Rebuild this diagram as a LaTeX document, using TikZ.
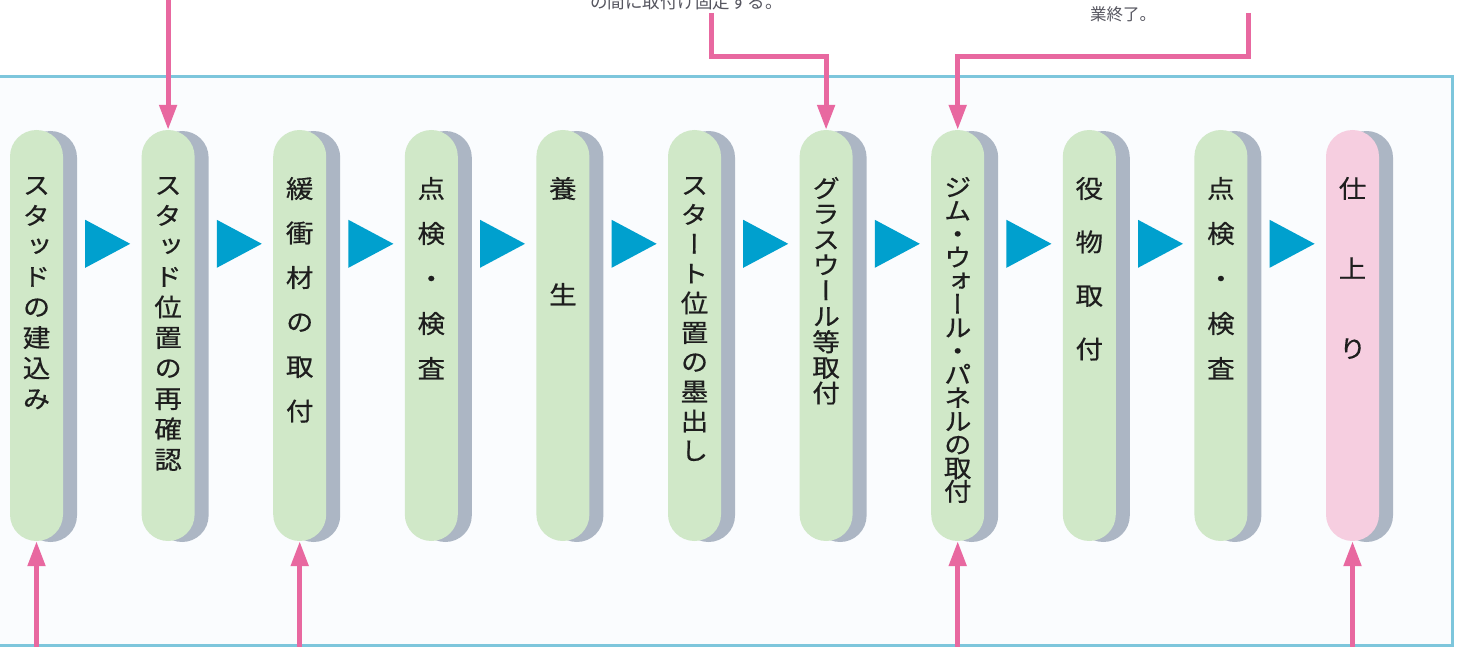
\documentclass[tikz,border=0pt]{standalone}
\usepackage{fontspec}
\usetikzlibrary{arrows.meta,calc,shadows}
\newfontfamily\cjkv[RawFeature=+vert,FakeStretch=1.1,FakeBold=0.5]{Noto Sans CJK JP}
\newfontfamily\cjkh{Noto Sans CJK JP}
\definecolor{pillgreen}{RGB}{208,232,200}
\definecolor{pillpink}{RGB}{246,206,224}
\definecolor{shadowgray}{RGB}{172,182,196}
\definecolor{triblue}{RGB}{0,160,206}
\definecolor{arrowpink}{RGB}{232,104,160}
\definecolor{framecol}{RGB}{125,198,220}
\definecolor{framefill}{RGB}{250,252,254}
\definecolor{txtgray}{RGB}{85,85,95}
\definecolor{txtdark}{RGB}{30,30,30}
\newcommand\vfnt[1]{\cjkv\fontsize{25}{#1}\selectfont\lineskiplimit=-100pt\relax}
\tikzset{
  pill/.style={rectangle, rounded corners=26.5pt, minimum width=53pt,
    minimum height=411pt, inner sep=0pt, fill=pillgreen,
    drop shadow={shadow xshift=14pt, shadow yshift=-1pt, fill=shadowgray, opacity=1}},
  pinkpill/.style={pill, fill=pillpink},
  vtxt/.style={anchor=north, inner sep=0pt, align=center, text=txtdark},
  tri/.style={fill=triblue},
  parrow/.style={draw=arrowpink, line width=5pt, -{Triangle[length=25pt,width=17pt]}},
  frameline/.style={draw=framecol, line width=3pt},
  note/.style={inner sep=0pt, anchor=base west, text=txtgray}
}
\begin{document}
\begin{tikzpicture}[x=1pt,y=-1pt]
\useasboundingbox (0,0) rectangle (1458,647);
\clip (0,0) rectangle (1458,647);
\fill[white] (0,0) rectangle (1458,647);
% frame
\fill[framefill] (-10,77) rectangle (1452,645);
\draw[frameline] (-10,77) -- (1452,77) -- (1452,645) -- (-10,645);
% notes (cut at top, as in the reference)
\node[note, font=\cjkh\fontsize{17.5}{20}\selectfont] (note1) at (590,9) {の間に取付け固定する。};
\node[note, font=\cjkh\fontsize{16.5}{20}\selectfont] (note2) at (1090,21) {業終了。};
% pills
\node[pill] (n1) at (36.5,335.5) {};
\node[pill] (n2) at (168.1,335.5) {};
\node[pill] (n3) at (299.7,335.5) {};
\node[pill] (n4) at (431.3,335.5) {};
\node[pill] (n5) at (562.9,335.5) {};
\node[pill] (n6) at (694.5,335.5) {};
\node[pill] (n7) at (826.1,335.5) {};
\node[pill] (n8) at (957.7,335.5) {};
\node[pill] (n9) at (1089.3,335.5) {};
\node[pill] (n10) at (1220.9,335.5) {};
\node[pinkpill] (n11) at (1352.5,335.5) {};
% texts
\node[vtxt, font=\vfnt{30.5}] (t1) at ($(n1.north)+(0,47)$) {ス\\タ\\ッ\\ド\\の\\建\\込\\み};
\node[vtxt, font=\vfnt{30.5}] (t2) at ($(n2.north)+(0,47)$) {ス\\タ\\ッ\\ド\\位\\置\\の\\再\\確\\認};
\node[vtxt, font=\vfnt{44.5}] (t3) at ($(n3.north)+(0,47)$) {緩\\衝\\材\\の\\取\\付};
\node[vtxt, font=\vfnt{45}] (t4) at ($(n4.north)+(0,47)$) {点\\検\\・\\検\\査};
\node[vtxt, font=\vfnt{106}] (t5) at ($(n5.north)+(0,47)$) {養\\生};
\node[vtxt, font=\vfnt{29.5}] (t6) at ($(n6.north)+(0,47)$) {ス\\タ\\ー\\ト\\位\\置\\の\\墨\\出\\し};
\node[vtxt, font=\vfnt{25.6}] (t7) at ($(n7.north)+(0,47)$) {グ\\ラ\\ス\\ウ\\ー\\ル\\等\\取\\付};
\node[vtxt, font=\vfnt{23.4}] (t8) at ($(n8.north)+(0,47)$) {ジ\\ム\\・\\ウ\\ォ\\ー\\ル\\・\\パ\\ネ\\ル\\の\\取\\付};
\node[vtxt, font=\vfnt{53.5}] (t9) at ($(n9.north)+(0,47)$) {役\\物\\取\\付};
\node[vtxt, font=\vfnt{45}] (t10) at ($(n10.north)+(0,47)$) {点\\検\\・\\検\\査};
\node[vtxt, font=\vfnt{80}] (t11) at ($(n11.north)+(0,47)$) {仕\\上\\り};
% blue triangles between steps
\foreach \i in {1,...,10}{
  \fill[tri] ($(n\i.north east)+(22,90)$) -- ($(n\i.north east)+(22,138)$) -- ($(n\i.north east)+(67,114)$) -- cycle;
}
% pink arrows from top
\coordinate (a2) at ($(n2.north)+(0,-140)$);
\draw[parrow] (a2) -- (n2.north);
\coordinate (a7) at (711,13);
\draw[parrow] (a7) |- ($(n7.north)+(0,-73)$) -- (n7.north);
\coordinate (a8) at (1248,13);
\draw[parrow] (a8) |- ($(n8.north)+(0,-73)$) -- (n8.north);
% pink arrows from bottom
\foreach \k in {1,3,8,11}{
  \coordinate (b\k) at ($(n\k.south)+(0,120)$);
  \draw[parrow] (b\k) -- (n\k.south);
}
\end{tikzpicture}
\end{document}
